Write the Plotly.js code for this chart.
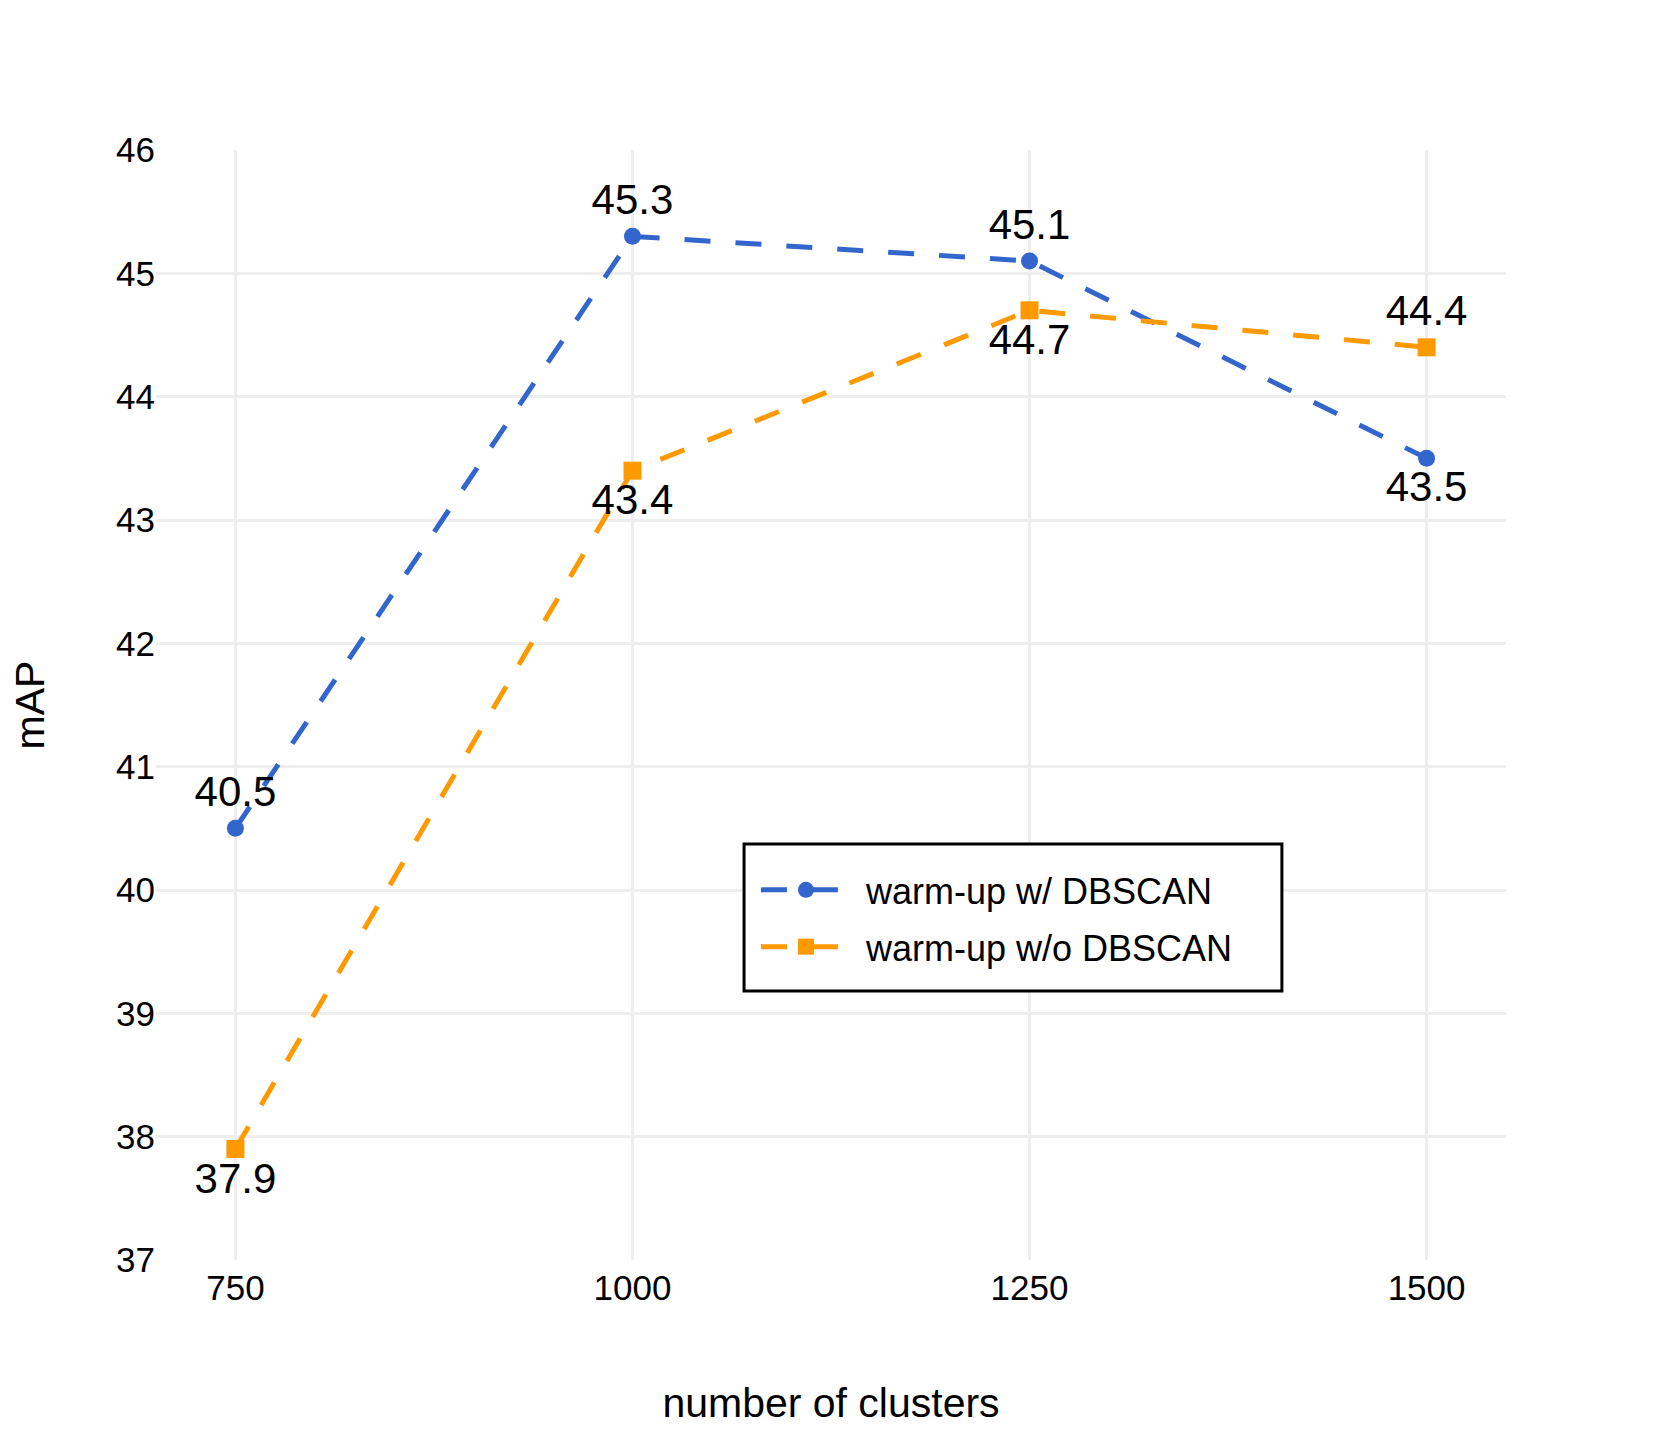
<!DOCTYPE html>
<html>
<head>
<meta charset="utf-8">
<script src="https://cdn.plot.ly/plotly-3.0.1.min.js"></script>
<style>
html,body{margin:0;padding:0;background:#fff;}
#chart{width:1662px;height:1440px;}
</style>
</head>
<body>
<div id="chart"></div>
<script>
var clusters = [750, 1000, 1250, 1500];
var withDBSCAN = [40.5, 45.3, 45.1, 43.5];
var withoutDBSCAN = [37.9, 43.4, 44.7, 44.4];
var seriesNames = ["warm-up w/ DBSCAN", "warm-up w/o DBSCAN"];
var withPos = ["top center", "top center", "top center", "bottom center"];
var withoutPos = ["bottom center", "bottom center", "bottom center", "top center"];
var xTicks = [750, 1000, 1250, 1500];
var yTicks = [37, 38, 39, 40, 41, 42, 43, 44, 45, 46];

var FONT = "Liberation Sans, Arial, Helvetica, sans-serif";
var LEGEND_PAD = "\u00A0";

var traces = [
  {
    x: clusters, y: withDBSCAN, name: LEGEND_PAD + seriesNames[0], legendgroup: "a",
    type: "scatter", mode: "lines+markers+text",
    text: withDBSCAN.map(function(v){return v.toFixed(1);}),
    textposition: withPos,
    textfont: {family: FONT, size: 42, color: "#000"},
    line: {color: "#3366CC", width: 5, dash: "26px,25px"},
    marker: {color: "#3366CC", size: 17, symbol: "circle"}
  },
  {
    x: clusters, y: withoutDBSCAN, name: LEGEND_PAD + seriesNames[1], legendgroup: "b",
    type: "scatter", mode: "lines+markers+text",
    text: withoutDBSCAN.map(function(v){return v.toFixed(1);}),
    textposition: withoutPos,
    textfont: {family: FONT, size: 42, color: "#000"},
    line: {color: "#FF9900", width: 5, dash: "26px,25px"},
    marker: {color: "#FF9900", size: 18, symbol: "square"}
  }
];

var layout = {
  width: 1662, height: 1440,
  margin: {l: 156, r: 156, t: 150, b: 180, pad: 0},
  paper_bgcolor: "#fff", plot_bgcolor: "#fff",
  font: {family: FONT, size: 35, color: "#000"},
  showlegend: true,
  legend: {
    x: 0.4444, y: 0.3604, xanchor: "left", yanchor: "top",
    bgcolor: "rgba(0,0,0,0)", borderwidth: 0,
    font: {family: FONT, size: 36, color: "#000"},
    itemwidth: 90, tracegroupgap: 7
  },
  shapes: [{
    type: "rect", xref: "paper", yref: "paper",
    x0: 0.4356, x1: 0.834, y0: 0.2423, y1: 0.3748,
    line: {color: "#000", width: 3}, fillcolor: "#fff", layer: "above"
  }],
  xaxis: {
    range: [700, 1550],
    tickvals: xTicks,
    ticktext: xTicks.map(String),
    showgrid: true, gridcolor: "#EEEEEE", gridwidth: 3,
    zeroline: false, showline: false, ticks: "",
    ticklabelstandoff: 4,
    tickfont: {family: FONT, size: 35, color: "#000"},
    title: {text: "number of clusters", font: {family: FONT, size: 41, color: "#000"}, standoff: 82}
  },
  yaxis: {
    range: [37, 46],
    tickvals: yTicks,
    ticktext: yTicks.map(String),
    showgrid: true, gridcolor: "#EEEEEE", gridwidth: 3,
    zeroline: false, showline: false, ticks: "",
    tickfont: {family: FONT, size: 35, color: "#000"},
    title: {text: "mAP", font: {family: FONT, size: 41, color: "#000"}, standoff: 58}
  }
};

Plotly.newPlot("chart", traces, layout, {displayModeBar: false, staticPlot: true});
</script>
</body>
</html>
